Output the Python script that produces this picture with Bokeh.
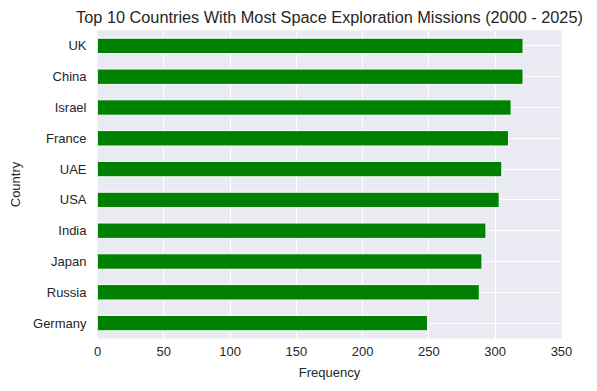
from bokeh.plotting import figure
from bokeh.models import FactorRange, Range1d, FixedTicker
from bokeh.embed import file_html
from bokeh.resources import INLINE

countries = ["UK", "China", "Israel", "France", "UAE", "USA", "India", "Japan", "Russia", "Germany"]
frequency = [321, 321, 312, 310, 305, 303, 293, 290, 288, 249]
x_ticks = [0, 50, 100, 150, 200, 250, 300, 350]

title = "Top 10 Countries With Most Space Exploration Missions (2000 - 2025)"
FONT = "Liberation Sans"
TXT = "#262626"

factors = list(reversed(countries))
p = figure(width=589, height=383, output_backend="svg", toolbar_location=None,
           y_range=FactorRange(factors=factors, range_padding=0),
           x_range=Range1d(0, 350),
           min_border_left=97, min_border_right=28, min_border_top=30, min_border_bottom=45)

p.hbar(y=countries, right=frequency, left=0, height=0.5,
       fill_color="#008000", line_color="white", line_width=1)

p.background_fill_color = "#EAEAF2"
p.border_fill_color = "white"
p.outline_line_color = None

p.title.text = title
p.title.align = "center"
p.title.text_font = FONT
p.title.text_font_size = "16.3px"
p.title.text_font_style = "normal"
p.title.text_color = TXT
p.title.standoff = 9

p.xgrid.grid_line_color = "white"
p.ygrid.grid_line_color = "white"
p.xgrid.grid_line_width = 1.1
p.ygrid.grid_line_width = 1.1
p.xaxis.ticker = FixedTicker(ticks=x_ticks)

for ax in (p.xaxis[0], p.yaxis[0]):
    ax.axis_line_color = None
    ax.major_tick_line_color = None
    ax.minor_tick_line_color = None
    ax.major_tick_out = 0
    ax.major_tick_in = 0
    ax.major_label_text_font = FONT
    ax.major_label_text_font_size = "13px"
    ax.major_label_text_color = TXT
    ax.axis_label_text_font = FONT
    ax.axis_label_text_font_size = "13px"
    ax.axis_label_text_font_style = "normal"
    ax.axis_label_text_color = TXT

p.xaxis.axis_label = "Frequency"
p.yaxis.axis_label = "Country"
p.xaxis.major_label_standoff = 8
p.xaxis.axis_label_standoff = 6
p.yaxis.major_label_standoff = 11
p.yaxis.axis_label_standoff = 7

open("out.html", "w").write(file_html(p, INLINE))
